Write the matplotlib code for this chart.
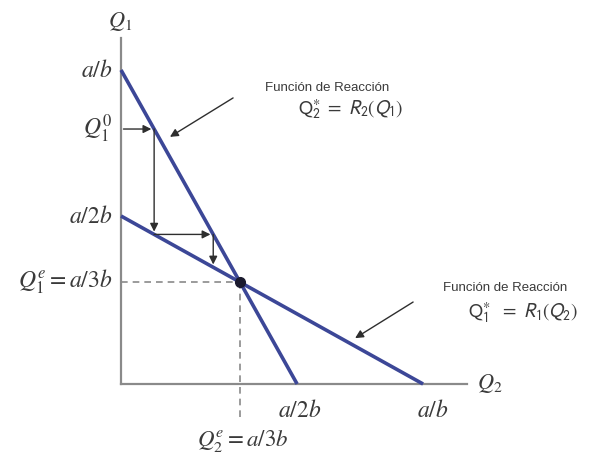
import numpy as np
import matplotlib
matplotlib.use("Agg")
import matplotlib.pyplot as plt

plt.rcParams["mathtext.fontset"] = "stix"

# reaction functions, quantities in units of a/b
r2_q2 = [0.0, 0.583]   # R2: steep line (Q2 on x, Q1 on y)
r2_q1 = [1.0, 0.0]
r1_q2 = [0.0, 1.0]     # R1: shallow line
r1_q1 = [0.535, 0.0]

q1_start = 0.812       # Q1^0, starting point of the adjustment path

q1_ticks = [1.0, q1_start, 0.535]
q1_labels = [r"$a/b$", r"$Q_1^0$", r"$a/2b$"]
q2_ticks = [0.593, 1.033]
q2_labels = [r"$a/2b$", r"$a/b$"]

BLUE = "#3c4797"
GREY = "#8a8a8a"
TXT = "#3a3a3a"
FS = 17


def r2(q1):
    # Q2 on R2 for a given Q1
    return r2_q2[1] * (1 - q1 / r2_q1[0])


def r1(q2):
    # Q1 on R1 for a given Q2
    return r1_q1[0] * (1 - q2 / r1_q2[1])


fig = plt.figure(figsize=(5.91, 4.57), dpi=100)
ax = fig.add_axes([0, 0, 1, 1])
ax.set_xlim(-0.4007, 1.556)
ax.set_ylim(-0.2325, 1.2229)
ax.axis("off")

# axes
ax.plot([0, 0], [0, 1.102], color=GREY, lw=1.6, zorder=1)
ax.plot([0, 1.146], [0, 0], color=GREY, lw=1.6, zorder=1)

# equilibrium = intersection of the two lines
s1 = (r2_q1[1] - r2_q1[0]) / (r2_q2[1] - r2_q2[0])
s2 = (r1_q1[1] - r1_q1[0]) / (r1_q2[1] - r1_q2[0])
qe2 = (r1_q1[0] - r2_q1[0]) / (s1 - s2)
qe1 = r2_q1[0] + s1 * qe2

ax.plot([0, qe2], [qe1, qe1], color=GREY, lw=1.2, ls=(0, (4, 3)), zorder=1)
ax.plot([qe2, qe2], [qe1, -0.11], color=GREY, lw=1.2, ls=(0, (4, 3)), zorder=1)

ax.plot(r2_q2, r2_q1, color=BLUE, lw=2.6, zorder=3, solid_capstyle="butt")
ax.plot(r1_q2, r1_q1, color=BLUE, lw=2.6, zorder=3, solid_capstyle="butt")
ax.plot([qe2], [qe1], "o", color="#1a1a2e", ms=7, zorder=4)

# adjustment path towards equilibrium
arr = dict(arrowstyle="-|>", color="#2e2e2e", lw=1.0, mutation_scale=12,
           shrinkA=0, shrinkB=2)
x0 = r2(q1_start)
ax.annotate("", xy=(x0, q1_start), xytext=(0.008, q1_start), arrowprops=arr)
y1 = r1(x0)
ax.annotate("", xy=(x0, y1), xytext=(x0, q1_start), arrowprops=arr)
x1 = r2(y1)
ax.annotate("", xy=(x1, y1), xytext=(x0, y1), arrowprops=arr)
y2 = r1(x1)
ax.annotate("", xy=(x1, y2), xytext=(x1, y1), arrowprops=arr)

# axis labels and ticks
ax.text(-0.003, 1.153, r"$Q_1$", fontsize=16, color=TXT, ha="center", va="center")
ax.text(1.179, 0.0, r"$Q_2$", fontsize=16, color=TXT, ha="left", va="center")
for y, lab in zip(q1_ticks, q1_labels):
    ax.text(-0.027, y, lab, fontsize=FS, color=TXT, ha="right", va="center")
ax.text(-0.027, qe1, r"$Q_1^e = a/3b$", fontsize=FS, color=TXT, ha="right", va="center")
for x, lab in zip(q2_ticks, q2_labels):
    ax.text(x, -0.083, lab, fontsize=FS, color=TXT, ha="center", va="center")
ax.text(qe2 + 0.01, -0.183, r"$Q_2^e = a/3b$", fontsize=16.5, color=TXT,
        ha="center", va="center")

# reaction function callouts
ax.text(0.477, 0.943, "Función de Reacción", fontsize=9.5, color=TXT,
        family="Liberation Sans", ha="left", va="center")
ax.text(0.586, 0.873, r"$\mathrm{Q}^{\ast}_{2}\ =\ R_2(Q_1)$", fontsize=14,
        color=TXT, math_fontfamily="stixsans", ha="left", va="center")
ax.annotate("", xy=(0.162, 0.787), xytext=(0.371, 0.911),
            arrowprops=dict(arrowstyle="-|>", color="#2e2e2e", lw=1.0,
                            mutation_scale=12, shrinkA=0, shrinkB=0))

ax.text(1.066, 0.306, "Función de Reacción", fontsize=9.5, color=TXT,
        family="Liberation Sans", ha="left", va="center")
ax.text(1.149, 0.226, r"$\mathrm{Q}^{\ast}_{1}\ \ =\ R_1(Q_2)$", fontsize=14,
        color=TXT, math_fontfamily="stixsans", ha="left", va="center")
ax.annotate("", xy=(0.775, 0.146), xytext=(0.967, 0.261),
            arrowprops=dict(arrowstyle="-|>", color="#2e2e2e", lw=1.0,
                            mutation_scale=12, shrinkA=0, shrinkB=0))

fig.savefig("out.png", dpi=100, facecolor="white")
plt.close(fig)
